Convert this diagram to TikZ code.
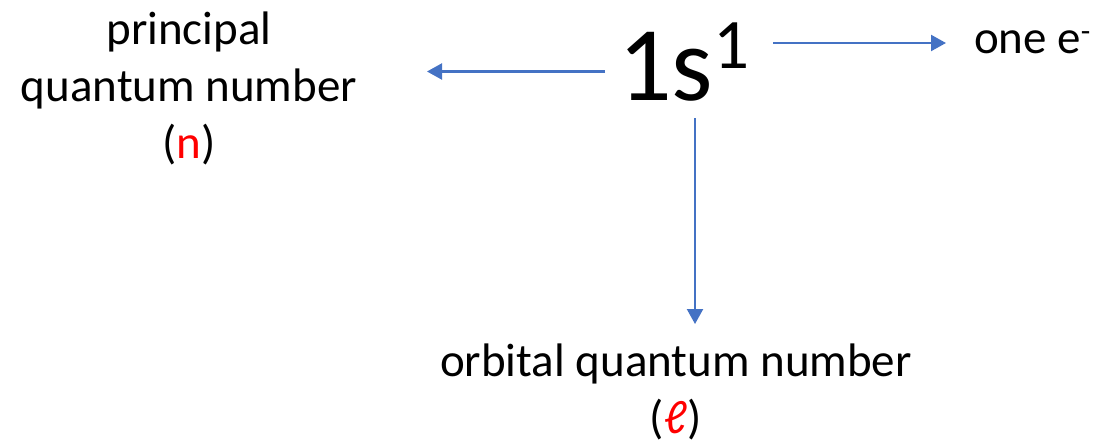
\documentclass[tikz,border=0pt]{standalone}
\usepackage{fontspec}
\setmainfont{Carlito}
\usetikzlibrary{arrows.meta}
\definecolor{arrowblue}{HTML}{4472C4}
\definecolor{qred}{HTML}{FF0000}
\begin{document}
\begin{tikzpicture}[x=1pt,y=-1pt,
  lbl/.style={inner sep=0pt,outer sep=0pt,align=center,font=\fontsize{47}{57}\selectfont},
  conn/.style={draw=arrowblue,line width=2.2pt,-{Triangle[length=15pt,width=16pt]}}]
\useasboundingbox (0,0) rectangle (1099,444);
\node[inner sep=0pt,anchor=base west] (main) at (618,100)
  {\fontsize{106}{106}\selectfont 1s\raisebox{32pt}{\fontsize{71}{71}\selectfont 1}};
\node[lbl,anchor=base] (pqn) at (189,158) {principal\\quantum number\\(\textcolor{qred}{n})};
\node[lbl,anchor=base west] (one) at (974,53) {one e\raisebox{12pt}{\fontsize{31}{31}\selectfont -}};
\node[lbl,anchor=base] (oqn) at (676,433) {orbital quantum number\\(\textcolor{qred}{ℓ})};
\coordinate (lS) at (605,71.5);
\coordinate (lE) at (427,71.5);
\coordinate (rS) at (773,43);
\coordinate (rE) at (946,43);
\coordinate (dS) at (695,118);
\coordinate (dE) at (695,324);
\draw[conn] (lS) -- (lE);
\draw[conn] (rS) -- (rE);
\draw[conn] (dS) -- (dE);
\end{tikzpicture}
\end{document}
